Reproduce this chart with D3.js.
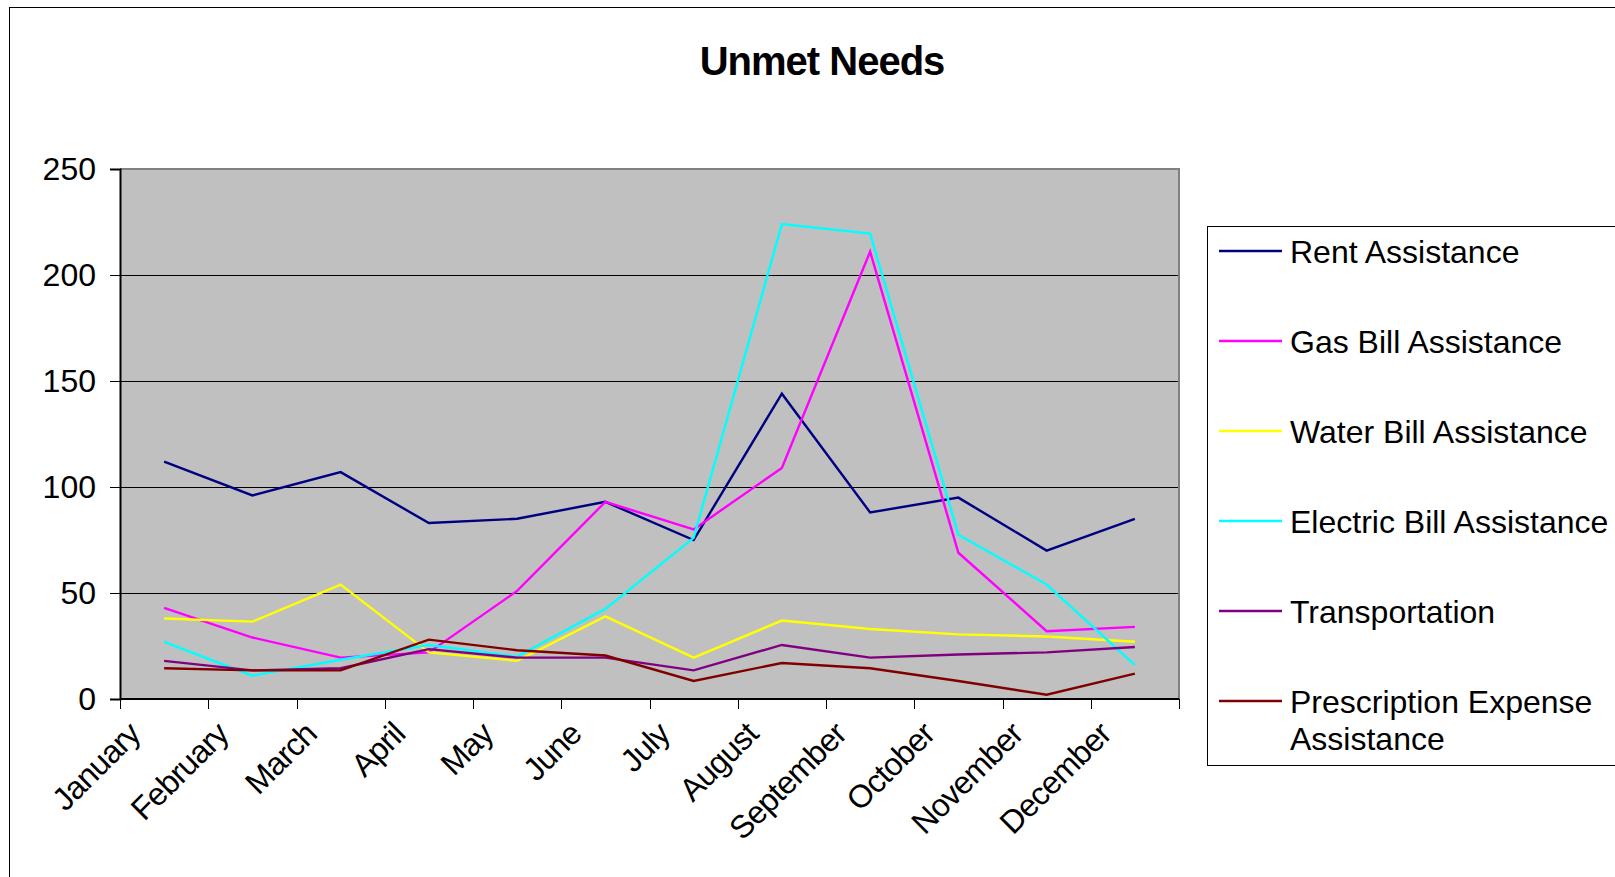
<!DOCTYPE html>
<html>
<head>
<meta charset="utf-8">
<script src="https://cdn.jsdelivr.net/npm/d3@7/dist/d3.min.js"></script>
<style>
  html, body { margin: 0; padding: 0; background: #fff; overflow: hidden; }
  svg { display: block; font-family: "Liberation Sans", Arial, sans-serif; }
</style>
</head>
<body>
<svg id="chart" width="1615" height="877"></svg>
<script>
// Monthly unmet needs by type of assistance
const months = ["January", "February", "March", "April", "May", "June",
                "July", "August", "September", "October", "November", "December"];
const rentAssistance        = [112, 96, 107, 83, 85, 93, 75, 144, 88, 95, 70, 85];
const gasBillAssistance     = [43, 29, 19.5, 22, 51, 93, 80, 109, 211, 69, 32, 34];
const waterBillAssistance   = [38, 36.5, 54, 22, 18, 39, 19.5, 37, 33, 30.5, 29.5, 27];
const electricBillAssistance= [27, 11, 18.5, 25.5, 20, 42.5, 76, 224, 219.5, 77.5, 54, 16];
const transportation        = [18, 13.5, 14.5, 23.5, 19.5, 19.5, 13.5, 25.5, 19.5, 21, 22, 24.5];
const prescriptionExpense   = [14.5, 13.5, 13.5, 28, 23, 20.5, 8.5, 17, 14.5, 8.5, 2, 12];
const yTicks = [0, 50, 100, 150, 200, 250];

const series = [
  { name: ["Rent Assistance"], values: rentAssistance, color: "#000080" },
  { name: ["Gas Bill Assistance"], values: gasBillAssistance, color: "#FF00FF" },
  { name: ["Water Bill Assistance"], values: waterBillAssistance, color: "#FFFF00" },
  { name: ["Electric Bill Assistance"], values: electricBillAssistance, color: "#00FFFF" },
  { name: ["Transportation"], values: transportation, color: "#800080" },
  { name: ["Prescription Expense", "Assistance"], values: prescriptionExpense, color: "#800000" }
];

const svg = d3.select("#chart");
const plot = { left: 120, right: 1179, top: 169, bottom: 699 };

// Outer chart frame (runs past the right and bottom edges)
svg.append("rect")
  .attr("x", 9.5).attr("y", 7.5)
  .attr("width", 1700).attr("height", 1000)
  .attr("fill", "#fff").attr("stroke", "#000").attr("stroke-width", 1);

// Title
svg.append("text")
  .attr("x", 822).attr("y", 75)
  .attr("text-anchor", "middle")
  .attr("font-size", 40).attr("font-weight", "bold")
  .attr("letter-spacing", -1)
  .text("Unmet Needs");

const x = d3.scaleBand().domain(months).range([plot.left, plot.right]).padding(0);
const y = d3.scaleLinear().domain([0, 250]).range([plot.bottom, plot.top]);
const cx = m => x(m) + x.bandwidth() / 2;

// Plot area background
svg.append("rect")
  .attr("x", plot.left).attr("y", plot.top)
  .attr("width", plot.right - plot.left).attr("height", plot.bottom - plot.top)
  .attr("fill", "#C0C0C0");

// Horizontal gridlines
svg.append("g").selectAll("line")
  .data(yTicks.filter(t => t > 0 && t < 250))
  .join("line")
  .attr("x1", plot.left).attr("x2", plot.right)
  .attr("y1", d => Math.round(y(d)) + 0.5).attr("y2", d => Math.round(y(d)) + 0.5)
  .attr("stroke", "#000").attr("stroke-width", 1);

// Plot area border (top and right in gray)
svg.append("path")
  .attr("d", `M${plot.left},${plot.top}H${plot.right}V${plot.bottom}`)
  .attr("fill", "none").attr("stroke", "#808080").attr("stroke-width", 2);

// Y axis
const yAxis = svg.append("g")
  .attr("transform", `translate(${plot.left},0)`)
  .call(d3.axisLeft(y).tickValues(yTicks).tickSize(10).tickPadding(14));
yAxis.select(".domain").attr("stroke", "#000").attr("stroke-width", 2);
yAxis.selectAll(".tick line").attr("stroke", "#000");
yAxis.selectAll(".tick text")
  .attr("font-size", 32).attr("font-family", "Liberation Sans, Arial, sans-serif")
  .attr("fill", "#000");

// X axis line with tick marks at category boundaries
const bounds = months.map(m => x(m)).concat([plot.right]);
svg.append("line")
  .attr("x1", plot.left).attr("x2", plot.right)
  .attr("y1", plot.bottom).attr("y2", plot.bottom)
  .attr("stroke", "#000").attr("stroke-width", 2);
svg.append("g").selectAll("line")
  .data(bounds)
  .join("line")
  .attr("x1", d => Math.round(d) + 0.5).attr("x2", d => Math.round(d) + 0.5)
  .attr("y1", plot.bottom).attr("y2", plot.bottom + 10)
  .attr("stroke", "#000").attr("stroke-width", 1);

// Rotated month labels
svg.append("g").selectAll("text")
  .data(months)
  .join("text")
  .attr("transform", d => `translate(${cx(d) - 22},${plot.bottom + 37}) rotate(-45)`)
  .attr("text-anchor", "end")
  .attr("font-size", 32)
  .attr("letter-spacing", -0.8)
  .text(d => d);

// Series lines
const line = d3.line()
  .x((v, i) => cx(months[i]))
  .y(v => y(v));

svg.append("g").selectAll("path")
  .data(series)
  .join("path")
  .attr("d", d => line(d.values))
  .attr("fill", "none")
  .attr("stroke", d => d.color)
  .attr("stroke-width", 2.4)
  .attr("stroke-linejoin", "miter");

// Legend
const legend = svg.append("g");
legend.append("rect")
  .attr("x", 1207.5).attr("y", 226.5)
  .attr("width", 500).attr("height", 539)
  .attr("fill", "#fff").attr("stroke", "#000").attr("stroke-width", 1);

const entry = legend.selectAll("g.entry")
  .data(series)
  .join("g")
  .attr("class", "entry")
  .attr("transform", (d, i) => `translate(0,${251 + i * 90})`);

entry.append("line")
  .attr("x1", 1219).attr("x2", 1282)
  .attr("y1", 0).attr("y2", 0)
  .attr("stroke", d => d.color).attr("stroke-width", 2.4);

entry.append("text")
  .attr("x", 1290).attr("y", 12)
  .attr("font-size", 32)
  .selectAll("tspan")
  .data(d => d.name)
  .join("tspan")
  .attr("x", 1290)
  .attr("dy", (t, i) => i === 0 ? 0 : 37)
  .text(t => t);
</script>
</body>
</html>
